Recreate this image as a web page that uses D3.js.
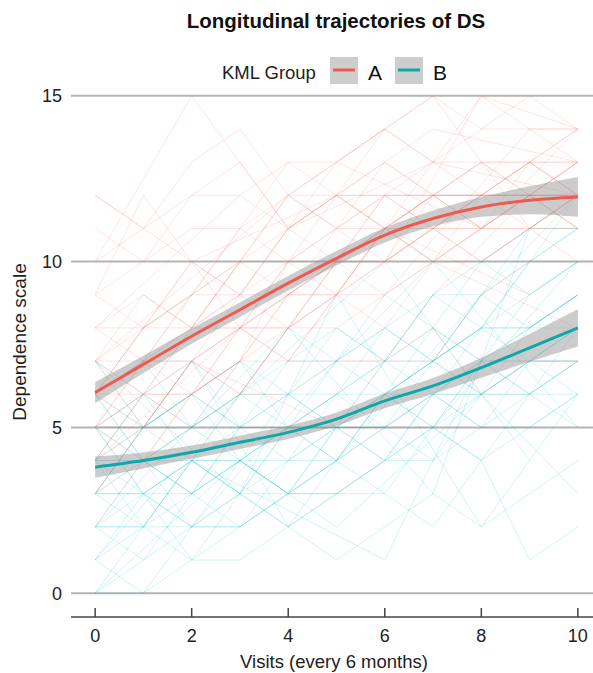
<!DOCTYPE html>
<html>
<head>
<meta charset="utf-8">
<script src="https://cdn.jsdelivr.net/npm/d3@7"></script>
<style>
  body { margin: 0; background: #fff; }
  text { font-family: "Liberation Sans", Arial, sans-serif; }
</style>
</head>
<body>
<script>
// visits 0..10 (every 6 months)
let visits = [0,1,2,3,4,5,6,7,8,9,10];
let xTicks = [0,2,4,6,8,10];
let yTicks = [0,5,10,15];

// individual trajectories, group A (null = missed visit)
let groupA = [
  [6,7,8,8,9,10,11,12,12,12,12],
  [5,5,6,7,9,9,10,11,11,12,13],
  [8,8,9,10,12,12,12,12,13,13,14],
  [4,5,7,6,8,9,11,10,11,12,11],
  [7,9,8,10,11,12,13,12,12,13,13],
  [6,6,6,8,8,10,10,11,12,12,12],
  [3,4,6,7,7,9,9,10,11,11,12],
  [9,10,11,11,12,13,14,13,14,15,14],
  [5,7,6,8,10,9,11,12,13,12,12],
  [6,8,9,9,10,11,11,12,11,12,13],
  [10,11,12,12,13,13,14,15,14,14,14],
  [7,6,8,9,9,10,12,11,12,12,11],
  [4,6,5,7,8,10,10,11,10,11,11],
  [6,7,7,8,10,11,12,12,12,13,12],
  [8,7,9,11,10,12,11,13,13,12,13],
  [5,6,8,8,9,9,11,11,12,12,12],
  [12,11,13,14,12,13,14,13,15,14,14],
  [2,4,5,6,8,8,9,10,10,11,10],
  [7,8,10,9,11,12,12,12,12,12,12],
  [6,5,7,9,8,10,11,10,12,11,12],
  [9,8,8,10,12,11,13,12,11,13,12],
  [3,5,7,8,7,9,10,12,11,12,13],
  [6,7,8,10,10,10,10,11,11,11,11],
  [8,9,8,9,11,12,11,12,13,11,12],
  [5,4,6,7,9,11,12,11,12,13,13],
  [7,7,7,8,8,9,11,12,12,12,12],
  [11,10,12,13,11,12,14,15,13,13,14],
  [4,6,7,6,8,9,8,10,11,12,11],
  [6,8,9,10,9,10,12,13,12,13,12],
  [5,6,6,7,10,10,11,11,10,11,12],
  [9,12,10,8,7,7,7,7,9,10,10],
  [7,5,4,6,6,7,7,8,6,7,7],
  [12,null,null,9,null,13,null,null,11,null,14],
  [6,null,10,null,null,12,null,14,null,null,13],
  [4,null,null,8,null,null,11,null,null,9,null],
  [10,null,15,null,11,null,null,13,null,null,12],
  [7,null,null,null,12,null,10,null,15,null,14],
  [3,null,7,null,null,5,null,9,null,12,null],
  [8,null,null,12,null,null,9,null,null,14,13],
  [5,null,9,null,13,null,null,10,null,null,8]
];

// individual trajectories, group B
let groupB = [
  [4,4,3,5,5,6,6,7,8,8,9],
  [2,3,3,4,4,5,6,6,7,7,8],
  [5,6,5,6,7,7,8,9,9,10,11],
  [0,1,2,2,3,3,4,5,4,5,6],
  [3,2,4,3,5,4,6,5,7,6,7],
  [6,5,6,7,6,8,7,9,10,9,10],
  [4,3,4,4,5,5,5,6,6,7,7],
  [1,2,1,3,2,4,5,4,6,7,6],
  [7,6,7,5,6,7,8,7,9,11,12],
  [3,4,5,4,3,5,6,7,6,8,9],
  [2,2,2,2,3,3,4,4,5,5,6],
  [5,4,3,5,6,5,7,8,7,8,8],
  [4,5,6,5,4,6,5,7,8,9,10],
  [0,0,1,1,2,1,2,3,2,3,4],
  [6,7,5,6,8,7,9,8,10,11,11],
  [3,3,4,5,5,5,5,6,7,7,7],
  [2,4,3,2,4,5,4,6,5,6,8],
  [5,5,5,6,6,6,7,7,8,8,9],
  [1,0,2,3,2,3,3,2,4,1,2],
  [4,2,3,4,6,5,6,7,6,7,8],
  [6,4,5,7,5,6,8,7,9,8,9],
  [3,3,2,3,4,4,5,5,6,6,6],
  [2,1,3,4,3,5,4,6,5,7,7],
  [4,6,4,3,5,7,6,8,7,9,10],
  [5,3,4,6,5,4,6,7,8,7,8],
  [3,5,6,4,5,6,7,6,8,10,11],
  [1,3,2,4,3,4,3,5,4,6,5],
  [7,5,6,5,7,8,7,9,8,10,12],
  [2,2,4,3,3,4,6,5,7,6,7],
  [4,4,4,4,5,5,5,6,6,6,7],
  [0,null,null,4,null,2,null,null,6,null,3],
  [6,null,2,null,null,7,null,10,null,null,5],
  [2,null,null,null,8,null,null,3,null,11,null],
  [5,null,1,null,null,4,null,null,9,null,12],
  [1,null,null,6,null,null,10,null,null,4,null],
  [3,null,7,null,2,null,null,5,null,null,10],
  [7,null,null,3,null,9,null,null,2,null,6],
  [0,null,4,null,null,null,1,null,7,null,9]
];

// smoothed fits and band half-widths
let fitA = [6.05,6.9,7.75,8.55,9.35,10.1,10.8,11.3,11.65,11.85,11.95];
let seA  = [0.32,0.26,0.23,0.22,0.22,0.22,0.22,0.24,0.3,0.42,0.6];
let fitB = [3.8,4.0,4.25,4.55,4.85,5.25,5.8,6.25,6.8,7.4,8.0];
let seB  = [0.32,0.24,0.2,0.2,0.2,0.2,0.22,0.24,0.3,0.42,0.56];

let groups = ["A","B"];
let colors = {A:"#F8766D", B:"#00BFC4"};
let fitColors = {A:"#EE5A50", B:"#0FA8AA"};

let w = 593, h = 673;
const svg = d3.select("body").append("svg")
  .attr("width", w).attr("height", h);

const x = d3.scaleLinear().domain([-0.5,10.5]).range([71,602]);
const y = d3.scaleLinear().domain([-0.75,15.75]).range([618,71]);

// grid
svg.append("g").selectAll("line")
  .data(yTicks).enter().append("line")
  .attr("x1",71).attr("x2",w)
  .attr("y1",d=>y(d)).attr("y2",d=>y(d))
  .attr("stroke","#b4b4b4").attr("stroke-width",2);

// skip missed visits, joining the ones that were made
const line = d3.line()
  .x(d=>x(d[0]))
  .y(d=>y(d[1]));
const toPts = t => visits.map((v,i)=>[v,t[i]]).filter(p=>p[1]!=null);

// spaghetti
svg.append("g").selectAll("path")
  .data(groupA).enter().append("path")
  .attr("d",d=>line(toPts(d)))
  .attr("fill","none")
  .attr("stroke",colors.A)
  .attr("stroke-opacity",0.2)
  .attr("stroke-width",1);

svg.append("g").selectAll("path")
  .data(groupB).enter().append("path")
  .attr("d",d=>line(toPts(d)))
  .attr("fill","none")
  .attr("stroke",colors.B)
  .attr("stroke-opacity",0.18)
  .attr("stroke-width",1);

// bands and fits
const area = d3.area()
  .x(d=>x(d.v))
  .y0(d=>y(d.f-d.s))
  .y1(d=>y(d.f+d.s))
  .curve(d3.curveMonotoneX);

const fitLine = d3.line()
  .x(d=>x(d.v))
  .y(d=>y(d.f))
  .curve(d3.curveMonotoneX);

let fits = {A:[fitA,seA], B:[fitB,seB]};
groups.forEach(function(g){
  let pts = visits.map((v,i)=>({v:v, f:fits[g][0][i], s:fits[g][1][i]}));
  svg.append("path").attr("d",area(pts))
    .attr("fill","#999").attr("fill-opacity",0.5);
  svg.append("path").attr("d",fitLine(pts))
    .attr("fill","none").attr("stroke",fitColors[g]).attr("stroke-width",3);
});

// x axis
svg.append("line")
  .attr("x1",71).attr("x2",w).attr("y1",617).attr("y2",617)
  .attr("stroke","#444").attr("stroke-width",1.5);
svg.append("g").selectAll("line")
  .data(xTicks).enter().append("line")
  .attr("x1",d=>x(d)).attr("x2",d=>x(d))
  .attr("y1",608).attr("y2",617)
  .attr("stroke","#444").attr("stroke-width",1.5);
svg.append("g").selectAll("text")
  .data(xTicks).enter().append("text")
  .attr("x",d=>x(d)).attr("y",642)
  .attr("text-anchor","middle")
  .attr("font-size",18).attr("fill","#222")
  .text(d=>d);

// y labels
svg.append("g").selectAll("text")
  .data(yTicks).enter().append("text")
  .attr("x",62).attr("y",d=>y(d)+6.5)
  .attr("text-anchor","end")
  .attr("font-size",18).attr("fill","#222")
  .text(d=>d);

svg.append("text")
  .attr("x",334).attr("y",668)
  .attr("text-anchor","middle").attr("font-size",18.5).attr("fill","#222")
  .text("Visits (every 6 months)");

svg.append("text")
  .attr("transform","translate(26,342) rotate(-90)")
  .attr("text-anchor","middle").attr("font-size",19).attr("fill","#222")
  .text("Dependence scale");

// title
svg.append("text")
  .attr("x",336).attr("y",28)
  .attr("text-anchor","middle").attr("font-size",20.5)
  .attr("font-weight","bold").attr("fill","#111")
  .text("Longitudinal trajectories of DS");

// legend
const leg = svg.append("g");
leg.append("text").attr("x",222).attr("y",79)
  .attr("font-size",18.5).attr("fill","#222").text("KML Group");
let keyX = {A:330, B:395};
groups.forEach(function(g){
  leg.append("rect").attr("x",keyX[g]).attr("y",57)
    .attr("width",28).attr("height",27).attr("fill","#cdcdcd");
  leg.append("line").attr("x1",keyX[g]+3).attr("x2",keyX[g]+25)
    .attr("y1",70).attr("y2",70)
    .attr("stroke",fitColors[g]).attr("stroke-width",3);
  leg.append("text").attr("x",keyX[g]+38).attr("y",80)
    .attr("font-size",21).attr("fill","#111").text(g);
});
</script>
</body>
</html>
